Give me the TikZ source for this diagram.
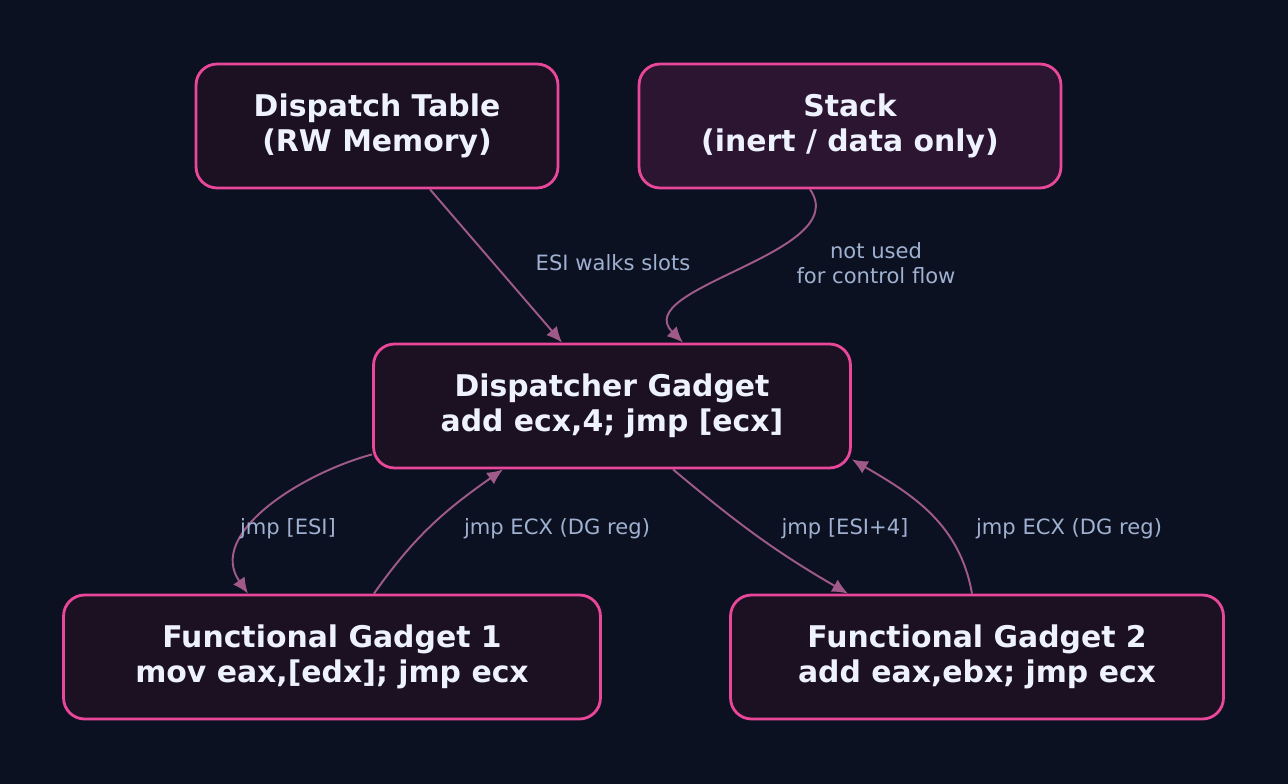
\documentclass[tikz,border=0pt]{standalone}
\usepackage{fontspec}
\setmainfont{DejaVu Sans}
\usetikzlibrary{positioning, arrows.meta}
\definecolor{Bg}{HTML}{0B1120}
\definecolor{Box}{HTML}{1C1122}
\definecolor{StackBox}{HTML}{2C1530}
\definecolor{Rim}{HTML}{E8479A}
\definecolor{Wire}{HTML}{A05A8A}
\definecolor{Txt}{HTML}{EEF2FF}
\definecolor{Note}{HTML}{9FB0D0}

\begin{document}
\begin{tikzpicture}[
  x=0.02cm, y=-0.02cm,
  gadget/.style={rectangle, rounded corners=0.42cm, draw=Rim, line width=1.6pt, fill=Box,
    text=Txt, font=\fontsize{17}{20}\selectfont\bfseries, align=center, minimum height=2.48cm, inner sep=2pt},
  flow/.style={draw=Wire, line width=1.1pt, -{Latex[length=9pt,width=8pt]}},
  tag/.style={text=Note, font=\fontsize{12}{14}\selectfont, align=center}
]
\fill[Bg] (0,0) rectangle (1288,784);
\useasboundingbox (0,0) rectangle (1288,784);

\node[gadget, minimum width=7.24cm] (table) at (377,126) {Dispatch Table\\(RW Memory)};
\node[gadget, minimum width=8.44cm, fill=StackBox] (stack) at (850,126) {Stack\\(inert / data only)};
\node[gadget, minimum width=9.54cm] (disp) at (612,406) {Dispatcher Gadget\\add ecx,4; jmp [ecx]};
\node[gadget, minimum width=10.74cm] (fg1) at (332,657) {Functional Gadget 1\\mov eax,[edx]; jmp ecx};
\node[gadget, minimum width=9.86cm] (fg2) at (977,657) {Functional Gadget 2\\add eax,ebx; jmp ecx};

\draw[flow] ([xshift=1.06cm]table.south) -- ([xshift=-1.0cm]disp.north);
\node[tag] (t1) at (613,263) {ESI walks slots};

\draw[flow] ([xshift=-0.8cm]stack.south) to[out=-55, in=135] ([xshift=1.42cm]disp.north);
\node[tag] (t2) at (876,263) {not used\\for control flow};

\draw[flow] ([yshift=0.3cm]disp.south west) to[out=195, in=125] ([xshift=-1.68cm]fg1.north);
\node[tag] (t3) at (288,529) {jmp [ESI]};

\draw[flow] ([xshift=0.84cm]fg1.north) to[out=55, in=215] ([xshift=-2.18cm]disp.south);
\node[tag] (t4) at (557,529) {jmp ECX (DG reg)};

\draw[flow] ([xshift=1.22cm]disp.south) to[out=-40, in=150] ([xshift=-2.58cm]fg2.north);
\node[tag] (t5) at (845,529) {jmp [ESI+4]};

\draw[flow] ([xshift=-0.1cm]fg2.north) to[out=100, in=-30] ([yshift=0.2cm]disp.south east);
\node[tag] (t6) at (1069,529) {jmp ECX (DG reg)};
\end{tikzpicture}
\end{document}
